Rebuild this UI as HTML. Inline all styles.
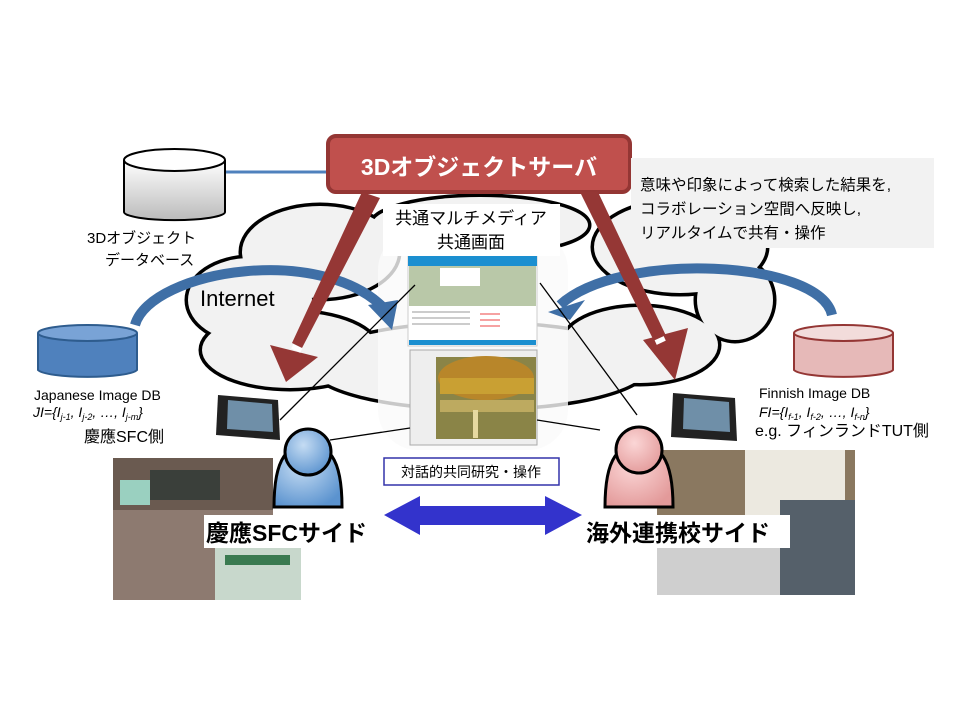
<!DOCTYPE html>
<html><head><meta charset="utf-8"><style>
html,body{margin:0;padding:0;background:#fff}
svg{display:block}
text{font-family:"Liberation Sans","Noto Sans CJK JP",sans-serif}
</style></head><body>
<svg width="960" height="720" viewBox="0 0 960 720" xmlns="http://www.w3.org/2000/svg">
<defs>
<linearGradient id="gc" x1="0" x2="0" y1="0" y2="1"><stop offset="0" stop-color="#fff"/><stop offset="1" stop-color="#bbb"/></linearGradient>
<radialGradient id="bp" cx="0.4" cy="0.35" r="0.7"><stop offset="0" stop-color="#c5dcf3"/><stop offset="1" stop-color="#5b93cf"/></radialGradient>
<radialGradient id="pp" cx="0.4" cy="0.35" r="0.7"><stop offset="0" stop-color="#fbd6d6"/><stop offset="1" stop-color="#e39a9a"/></radialGradient>
</defs>
<rect width="960" height="720" fill="#fff"/>
<!-- cloud -->
<g stroke="#000" stroke-width="7" fill="#000">
<ellipse cx="250" cy="300" rx="62" ry="42"/><ellipse cx="320" cy="252" rx="78" ry="46"/>
<ellipse cx="480" cy="225" rx="108" ry="28"/><ellipse cx="680" cy="247" rx="86" ry="46"/>
<ellipse cx="735" cy="300" rx="38" ry="40"/><ellipse cx="640" cy="345" rx="78" ry="38"/>
<ellipse cx="480" cy="366" rx="168" ry="42"/><ellipse cx="290" cy="350" rx="88" ry="38"/>
</g>
<g fill="#f2f2f2">
<ellipse cx="250" cy="300" rx="62" ry="42"/><ellipse cx="320" cy="252" rx="78" ry="46"/>
<ellipse cx="480" cy="225" rx="108" ry="28"/><ellipse cx="680" cy="247" rx="86" ry="46"/>
<ellipse cx="735" cy="300" rx="38" ry="40"/><ellipse cx="640" cy="345" rx="78" ry="38"/>
<ellipse cx="480" cy="366" rx="168" ry="42"/><ellipse cx="290" cy="350" rx="88" ry="38"/>
</g>
<rect x="378" y="230" width="190" height="220" rx="40" fill="#fafafa" opacity="0.8"/>
<text x="200" y="306" font-size="22">Internet</text>
<!-- gray db -->
<line x1="225" y1="172" x2="330" y2="172" stroke="#4f81bd" stroke-width="3"/>
<path d="M124 160 v52 a50 8 0 0 0 101 0 v-52" fill="url(#gc)" stroke="#000" stroke-width="2"/>
<ellipse cx="174.5" cy="160" rx="50.5" ry="11" fill="#fff" stroke="#000" stroke-width="2"/>
<text x="87" y="243" font-size="15">3Dオブジェクト</text>
<text x="105" y="265" font-size="15">データベース</text>
<!-- blue db -->
<path d="M38 333 v37 a50 8 0 0 0 99 0 v-37" fill="#4f81bd" stroke="#2e5c8e" stroke-width="2"/>
<ellipse cx="87.5" cy="333" rx="49.5" ry="8" fill="#79a3d6" stroke="#2e5c8e" stroke-width="2"/>
<!-- pink db -->
<path d="M794 333 v37 a50 8 0 0 0 99 0 v-37" fill="#e6b9b8" stroke="#943634" stroke-width="2"/>
<ellipse cx="843.5" cy="333" rx="49.5" ry="8" fill="#f2dcdb" stroke="#943634" stroke-width="2"/>
<!-- blue arcs -->
<path d="M135 325 C150 270 330 240 390 315" fill="none" stroke="#3f6fa6" stroke-width="10"/>
<polygon points="368,305 398,300 392,330" fill="#3f6fa6"/>
<path d="M832 315 C820 260 620 250 560 305" fill="none" stroke="#3f6fa6" stroke-width="10"/>
<polygon points="548,312 585,300 570,320" fill="#3f6fa6"/>
<!-- screens -->
<g>
<rect x="408" y="256" width="129" height="90" fill="#fff" stroke="#ccc"/>
<rect x="408" y="256" width="129" height="10" fill="#1b8fd0"/>
<rect x="409" y="266" width="127" height="40" fill="#b9c8a8"/>
<rect x="440" y="268" width="40" height="18" fill="#fff"/>
<rect x="409" y="340" width="127" height="5" fill="#1b8fd0"/>
<g stroke="#999" stroke-width="1"><line x1="412" y1="312" x2="470" y2="312"/><line x1="412" y1="318" x2="470" y2="318"/><line x1="412" y1="324" x2="470" y2="324"/><line x1="480" y1="314" x2="500" y2="314" stroke="#e44"/><line x1="480" y1="320" x2="500" y2="320" stroke="#e44"/><line x1="480" y1="326" x2="500" y2="326" stroke="#e44"/></g>
<rect x="410" y="350" width="127" height="95" fill="#eee" stroke="#aaa"/>
<rect x="436" y="357" width="100" height="82" fill="#8a8447"/>
<ellipse cx="486" cy="378" rx="48" ry="22" fill="#b8862a"/>
<rect x="440" y="378" width="94" height="16" fill="#c9a033"/>
<rect x="440" y="400" width="94" height="12" fill="#bdaa60"/>
<rect x="473" y="410" width="5" height="28" fill="#e6d9a0"/>
</g>
<rect x="383" y="204" width="177" height="52" fill="#fff"/>
<text x="471" y="224" font-size="17" text-anchor="middle">共通マルチメディア</text>
<text x="471" y="248" font-size="17" text-anchor="middle">共通画面</text>
<!-- thin lines -->
<g stroke="#000" stroke-width="1.3">
<line x1="280" y1="420" x2="415" y2="285"/><line x1="330" y1="440" x2="410" y2="428"/>
<line x1="540" y1="283" x2="637" y2="415"/><line x1="537" y1="420" x2="600" y2="430"/>
</g>
<!-- server -->
<rect x="328" y="136" width="302" height="56" rx="8" fill="#c0504d" stroke="#943634" stroke-width="4"/>
<text x="479" y="175" font-size="23" font-weight="bold" fill="#fff" text-anchor="middle">3Dオブジェクトサーバ</text>
<!-- red arrows -->
<g fill="#953735">
<polygon points="362,192 380,198 302,348 292,343"/>
<polygon points="270,345 318,357 286,382"/>
<polygon points="580,192 598,192 668,340 656,345"/>
<polygon points="643,340 688,328 675,380"/>
</g>
<rect x="292" y="346" width="10" height="5" fill="#fff" transform="rotate(25 297 348)"/>
<rect x="655" y="338" width="10" height="5" fill="#fff" transform="rotate(-25 660 340)"/>
<!-- callout -->
<rect x="631" y="158" width="303" height="90" fill="#f2f2f2"/>
<text x="640" y="190" font-size="15.5">意味や印象によって検索した結果を,</text>
<text x="640" y="214" font-size="15.5">コラボレーション空間へ反映し,</text>
<text x="640" y="238" font-size="15.5">リアルタイムで共有・操作</text>
<!-- labels -->
<text x="34" y="400" font-size="14">Japanese Image  DB</text>
<text x="33" y="417" font-size="14" font-family="Liberation Serif" font-style="italic">JI={I<tspan font-size="9" dy="3">j-1</tspan><tspan dy="-3">, I</tspan><tspan font-size="9" dy="3">j-2</tspan><tspan dy="-3">, …, I</tspan><tspan font-size="9" dy="3">j-m</tspan><tspan dy="-3">}</tspan></text>
<text x="84" y="442" font-size="16">慶應SFC側</text>
<text x="759" y="398" font-size="14">Finnish Image   DB</text>
<text x="759" y="417" font-size="14" font-family="Liberation Serif" font-style="italic">FI={I<tspan font-size="9" dy="3">f-1</tspan><tspan dy="-3">, I</tspan><tspan font-size="9" dy="3">f-2</tspan><tspan dy="-3">, …, I</tspan><tspan font-size="9" dy="3">f-n</tspan><tspan dy="-3">}</tspan></text>
<text x="755" y="436" font-size="16">e.g. フィンランドTUT側</text>
<!-- tablets -->
<polygon points="218,395 278,400 280,440 216,435" fill="#222"/>
<polygon points="228,400 272,404 273,432 227,429" fill="#6f8fa8"/>
<polygon points="673,393 735,398 737,441 671,437" fill="#222"/>
<polygon points="684,398 729,402 730,432 683,429" fill="#6f8fa8"/>
<!-- photos -->
<rect x="113" y="458" width="160" height="142" fill="#6a5a50"/>
<rect x="150" y="470" width="70" height="30" fill="#3a3f3a"/>
<rect x="120" y="480" width="30" height="25" fill="#9ad0c0"/>
<rect x="113" y="510" width="160" height="90" fill="#8d7a70"/>
<rect x="215" y="548" width="86" height="52" fill="#c8d8cc"/>
<rect x="225" y="555" width="65" height="10" fill="#3a7a50"/>
<rect x="657" y="450" width="198" height="145" fill="#8a7860"/>
<rect x="745" y="450" width="100" height="70" fill="#ece9e0"/>
<rect x="657" y="540" width="198" height="55" fill="#cfcfcf"/>
<rect x="780" y="500" width="75" height="95" fill="#55606a"/>
<!-- people -->
<g stroke="#000" stroke-width="3">
<path d="M274 507 c0 -52 15 -62 34 -62 c19 0 34 10 34 62 z" fill="url(#bp)"/>
<circle cx="308" cy="452" r="23" fill="url(#bp)"/>
<path d="M605 507 c0 -52 15 -62 34 -62 c19 0 34 10 34 62 z" fill="url(#pp)"/>
<circle cx="639" cy="450" r="23" fill="url(#pp)"/>
</g>
<rect x="204" y="515" width="178" height="33" fill="#fff"/>
<text x="206" y="541" font-size="23" font-weight="bold">慶應SFCサイド</text>
<rect x="584" y="515" width="206" height="33" fill="#fff"/>
<text x="586" y="541" font-size="23" font-weight="bold">海外連携校サイド</text>
<!-- dialog box -->
<rect x="384" y="458" width="175" height="27" fill="#fff" stroke="#3333aa" stroke-width="1.5"/>
<text x="471" y="477" font-size="14" text-anchor="middle">対話的共同研究・操作</text>
<polygon points="384,515 420,496 420,506 545,506 545,496 582,515 545,535 545,525 420,525 420,535" fill="#3333cc"/>
</svg>
</body></html>
